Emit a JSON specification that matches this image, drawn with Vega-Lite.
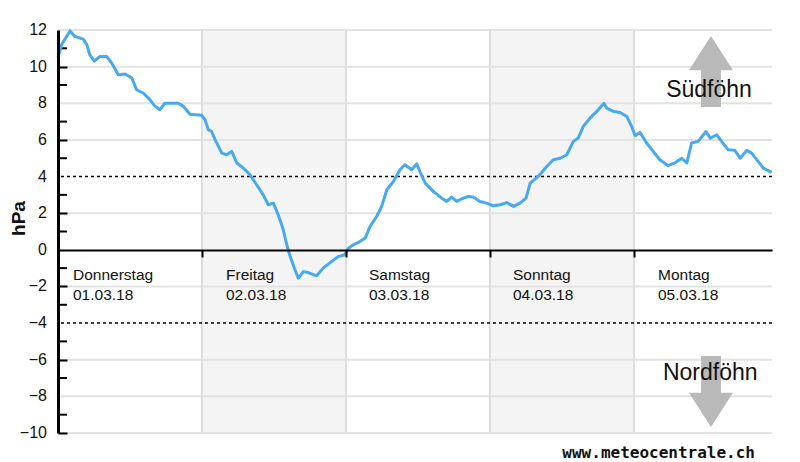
{
  "$schema": "https://vega.github.io/schema/vega-lite/v6.json",
  "width": 714,
  "height": 403,
  "autosize": {"type": "none"},
  "padding": {"left": 58, "top": 30, "right": 28, "bottom": 29},
  "background": "white",
  "config": {"view": {"stroke": null}, "font": "Liberation Sans"},
  "title": {"text": "www.meteocentrale.ch", "orient": "bottom", "anchor": "end", "frame": "group", "font": "DejaVu Sans Mono", "fontSize": 16, "fontWeight": "bold", "color": "#111", "offset": 4, "dx": -17},
  "layer": [
    {
      "data": {"values": [{"start": 24, "end": 48}, {"start": 72, "end": 96}]},
      "mark": {"type": "rect", "color": "#f4f4f4"},
      "encoding": {
        "x": {"field": "start", "type": "quantitative", "scale": {"domain": [0, 119], "nice": false, "zero": false}},
        "x2": {"field": "end"},
        "y": {"datum": 12, "type": "quantitative", "scale": {"domain": [-10, 12], "nice": false, "zero": false}},
        "y2": {"datum": -10}
      }
    },
    {
      "data": {"values": [{"g": 12}, {"g": 10}, {"g": 8}, {"g": 6}, {"g": 2}, {"g": -2}, {"g": -6}, {"g": -8}, {"g": -10}]},
      "mark": {"type": "rule", "color": "#e2e2e2", "strokeWidth": 2},
      "encoding": {
        "y": {"field": "g", "type": "quantitative", "scale": {"domain": [-10, 12], "nice": false, "zero": false}}
      }
    },
    {
      "data": {"values": [{"g": 24}, {"g": 48}, {"g": 72}, {"g": 96}]},
      "mark": {"type": "rule", "color": "#dedede", "strokeWidth": 2},
      "encoding": {
        "x": {"field": "g", "type": "quantitative", "scale": {"domain": [0, 119], "nice": false, "zero": false}}
      }
    },
    {
      "data": {"values": [{"g": 4}, {"g": -4}]},
      "mark": {"type": "rule", "color": "#000", "strokeWidth": 1.5, "strokeDash": [3, 3]},
      "encoding": {
        "y": {"field": "g", "type": "quantitative", "scale": {"domain": [-10, 12], "nice": false, "zero": false}}
      }
    },
    {
      "data": {"values": [{"g": -9}, {"g": -7}, {"g": -5}, {"g": -3}, {"g": -1}, {"g": 1}, {"g": 3}, {"g": 5}, {"g": 7}, {"g": 9}, {"g": 11}]},
      "mark": {"type": "rule", "color": "#000", "strokeWidth": 2},
      "encoding": {
        "x": {"datum": 0, "type": "quantitative", "scale": {"domain": [0, 119], "nice": false, "zero": false}},
        "x2": {"datum": 1.5},
        "y": {"field": "g", "type": "quantitative", "scale": {"domain": [-10, 12], "nice": false, "zero": false}}
      }
    },
    {
      "data": {"values": [{"g": -10}, {"g": -8}, {"g": -6}, {"g": -4}, {"g": -2}, {"g": 0}, {"g": 2}, {"g": 4}, {"g": 6}, {"g": 8}, {"g": 10}, {"g": 12}]},
      "mark": {"type": "text", "fontSize": 16, "align": "right", "baseline": "middle", "dx": -11, "color": "#111"},
      "encoding": {
        "x": {"datum": 0, "type": "quantitative", "scale": {"domain": [0, 119], "nice": false, "zero": false}},
        "y": {"field": "g", "type": "quantitative", "scale": {"domain": [-10, 12], "nice": false, "zero": false}},
        "text": {"field": "g", "type": "quantitative", "format": "d"}
      }
    },
    {
      "data": {"values": [
        {"h": 0, "v": 10.5}, {"h": 0.6, "v": 11.2}, {"h": 2.0, "v": 11.95}, {"h": 2.8, "v": 11.65}, {"h": 4.2, "v": 11.5},
        {"h": 4.8, "v": 11.2}, {"h": 5.3, "v": 10.65}, {"h": 6.05, "v": 10.3}, {"h": 7.0, "v": 10.56}, {"h": 8.1, "v": 10.56},
        {"h": 8.95, "v": 10.2}, {"h": 10.05, "v": 9.56}, {"h": 11.2, "v": 9.6}, {"h": 12.3, "v": 9.38}, {"h": 13.1, "v": 8.74},
        {"h": 14.2, "v": 8.56}, {"h": 15.3, "v": 8.2}, {"h": 16.2, "v": 7.83}, {"h": 17.0, "v": 7.65}, {"h": 17.8, "v": 8.0},
        {"h": 20.05, "v": 8.0}, {"h": 20.9, "v": 7.83}, {"h": 22.0, "v": 7.4}, {"h": 23.95, "v": 7.34}, {"h": 24.5, "v": 7.1},
        {"h": 25.05, "v": 6.56}, {"h": 25.6, "v": 6.46}, {"h": 26.2, "v": 6.0}, {"h": 27.3, "v": 5.28}, {"h": 28.1, "v": 5.19},
        {"h": 28.95, "v": 5.37}, {"h": 29.8, "v": 4.74}, {"h": 30.9, "v": 4.46}, {"h": 32.0, "v": 4.1}, {"h": 33.1, "v": 3.55},
        {"h": 34.2, "v": 3.0}, {"h": 35.05, "v": 2.46}, {"h": 35.9, "v": 2.55}, {"h": 36.7, "v": 1.91}, {"h": 37.55, "v": 1.09},
        {"h": 38.2, "v": 0.18}, {"h": 38.7, "v": -0.37}, {"h": 39.5, "v": -1.09}, {"h": 40.05, "v": -1.55}, {"h": 40.9, "v": -1.19},
        {"h": 41.7, "v": -1.24}, {"h": 43.1, "v": -1.42}, {"h": 44.2, "v": -1.0}, {"h": 45.6, "v": -0.64}, {"h": 46.7, "v": -0.37},
        {"h": 47.8, "v": -0.27}, {"h": 48.4, "v": 0.09}, {"h": 49.2, "v": 0.27}, {"h": 50.3, "v": 0.45}, {"h": 51.2, "v": 0.64},
        {"h": 52.0, "v": 1.27}, {"h": 53.1, "v": 1.82}, {"h": 53.95, "v": 2.37}, {"h": 54.8, "v": 3.28}, {"h": 55.9, "v": 3.73},
        {"h": 57.0, "v": 4.37}, {"h": 57.8, "v": 4.64}, {"h": 58.95, "v": 4.37}, {"h": 59.8, "v": 4.7}, {"h": 60.3, "v": 4.28},
        {"h": 61.2, "v": 3.64}, {"h": 62.55, "v": 3.19}, {"h": 63.95, "v": 2.82}, {"h": 64.8, "v": 2.64}, {"h": 65.6, "v": 2.88},
        {"h": 66.45, "v": 2.64}, {"h": 67.55, "v": 2.82}, {"h": 68.4, "v": 2.91}, {"h": 69.2, "v": 2.88}, {"h": 70.3, "v": 2.64},
        {"h": 71.45, "v": 2.55}, {"h": 72.55, "v": 2.4}, {"h": 73.7, "v": 2.46}, {"h": 74.8, "v": 2.58}, {"h": 75.9, "v": 2.37},
        {"h": 77.0, "v": 2.55}, {"h": 78.0, "v": 2.82}, {"h": 78.7, "v": 3.64}, {"h": 79.5, "v": 3.86}, {"h": 80.3, "v": 4.1},
        {"h": 81.45, "v": 4.55}, {"h": 82.55, "v": 4.92}, {"h": 83.7, "v": 5.0}, {"h": 84.8, "v": 5.19}, {"h": 85.9, "v": 5.92},
        {"h": 86.7, "v": 6.1}, {"h": 87.55, "v": 6.74}, {"h": 88.7, "v": 7.2}, {"h": 89.8, "v": 7.56}, {"h": 91.0, "v": 8.0},
        {"h": 91.45, "v": 7.74}, {"h": 92.55, "v": 7.56}, {"h": 93.7, "v": 7.5}, {"h": 94.8, "v": 7.28}, {"h": 95.6, "v": 6.74},
        {"h": 96.2, "v": 6.23}, {"h": 97.0, "v": 6.41}, {"h": 98.1, "v": 5.83}, {"h": 99.2, "v": 5.37}, {"h": 100.3, "v": 4.92},
        {"h": 101.7, "v": 4.59}, {"h": 102.8, "v": 4.74}, {"h": 103.95, "v": 5.0}, {"h": 104.8, "v": 4.74}, {"h": 105.6, "v": 5.83},
        {"h": 106.7, "v": 5.92}, {"h": 108.0, "v": 6.46}, {"h": 108.7, "v": 6.1}, {"h": 109.8, "v": 6.28}, {"h": 110.6, "v": 5.92},
        {"h": 111.7, "v": 5.46}, {"h": 112.8, "v": 5.43}, {"h": 113.7, "v": 5.0}, {"h": 114.8, "v": 5.43}, {"h": 115.6, "v": 5.28},
        {"h": 116.45, "v": 4.92}, {"h": 117.55, "v": 4.46}, {"h": 118.95, "v": 4.23}
      ]},
      "mark": {"type": "line", "color": "#47aaf0", "strokeWidth": 3, "strokeJoin": "round"},
      "encoding": {
        "x": {"field": "h", "type": "quantitative", "scale": {"domain": [0, 119], "nice": false, "zero": false},
          "axis": {"orient": "bottom", "offset": -183, "zindex": 1, "values": [0, 24, 48, 72, 96], "labels": false, "grid": false, "domainColor": "#000", "domainWidth": 2, "tickColor": "#000", "tickWidth": 2, "tickSize": 7, "title": null}},
        "y": {"field": "v", "type": "quantitative", "scale": {"domain": [-10, 12], "nice": false, "zero": false},
          "axis": {"zindex": 1, "values": [-10, -8, -6, -4, -2, 0, 2, 4, 6, 8, 10, 12], "labels": false, "grid": false, "domainColor": "#000", "domainWidth": 3, "tickColor": "#000", "tickWidth": 2, "tickSize": -9, "title": "hPa", "titleFontSize": 19, "titleFontWeight": "bold", "titleColor": "#111", "titleX": -40, "titleY": 188, "titleAlign": "center", "titleBaseline": "middle", "titleAngle": -90}}
      }
    },
    {
      "data": {"values": [{"h": 108.83, "v": 9.73}]},
      "mark": {"type": "point", "shape": "M0,-1L0.62,-0.04L0.28,-0.04L0.28,1L-0.28,1L-0.28,-0.04L-0.62,-0.04Z", "size": 5041, "filled": true, "color": "#b9b9b9", "opacity": 1, "strokeWidth": 0},
      "encoding": {
        "x": {"field": "h", "type": "quantitative", "scale": {"domain": [0, 119], "nice": false, "zero": false}},
        "y": {"field": "v", "type": "quantitative", "scale": {"domain": [-10, 12], "nice": false, "zero": false}}
      }
    },
    {
      "data": {"values": [{"h": 108.83, "v": -7.73}]},
      "mark": {"type": "point", "shape": "M0,1L0.62,0.04L0.28,0.04L0.28,-1L-0.28,-1L-0.28,0.04L-0.62,0.04Z", "size": 5041, "filled": true, "color": "#b9b9b9", "opacity": 1, "strokeWidth": 0},
      "encoding": {
        "x": {"field": "h", "type": "quantitative", "scale": {"domain": [0, 119], "nice": false, "zero": false}},
        "y": {"field": "v", "type": "quantitative", "scale": {"domain": [-10, 12], "nice": false, "zero": false}}
      }
    },
    {
      "data": {"values": [{"h": 108.5, "v": 8.72, "label": "Südföhn"}, {"h": 108.7, "v": -6.72, "label": "Nordföhn"}]},
      "mark": {"type": "text", "fontSize": 23, "align": "center", "baseline": "middle", "color": "#111"},
      "encoding": {
        "x": {"field": "h", "type": "quantitative", "scale": {"domain": [0, 119], "nice": false, "zero": false}},
        "y": {"field": "v", "type": "quantitative", "scale": {"domain": [-10, 12], "nice": false, "zero": false}},
        "text": {"field": "label"}
      }
    },
    {
      "data": {"values": [
        {"h": 2.5, "day": "Donnerstag", "date": "01.03.18"},
        {"h": 28.0, "day": "Freitag", "date": "02.03.18"},
        {"h": 51.83, "day": "Samstag", "date": "03.03.18"},
        {"h": 75.83, "day": "Sonntag", "date": "04.03.18"},
        {"h": 100.0, "day": "Montag", "date": "05.03.18"}
      ]},
      "layer": [
        {
          "mark": {"type": "text", "fontSize": 15.5, "align": "left", "baseline": "alphabetic", "dy": 30, "color": "#111"},
          "encoding": {
            "x": {"field": "h", "type": "quantitative", "scale": {"domain": [0, 119], "nice": false, "zero": false}},
            "y": {"datum": 0, "type": "quantitative", "scale": {"domain": [-10, 12], "nice": false, "zero": false}},
            "text": {"field": "day"}
          }
        },
        {
          "mark": {"type": "text", "fontSize": 15.5, "align": "left", "baseline": "alphabetic", "dy": 50, "color": "#111"},
          "encoding": {
            "x": {"field": "h", "type": "quantitative", "scale": {"domain": [0, 119], "nice": false, "zero": false}},
            "y": {"datum": 0, "type": "quantitative", "scale": {"domain": [-10, 12], "nice": false, "zero": false}},
            "text": {"field": "date"}
          }
        }
      ]
    }
  ]
}
